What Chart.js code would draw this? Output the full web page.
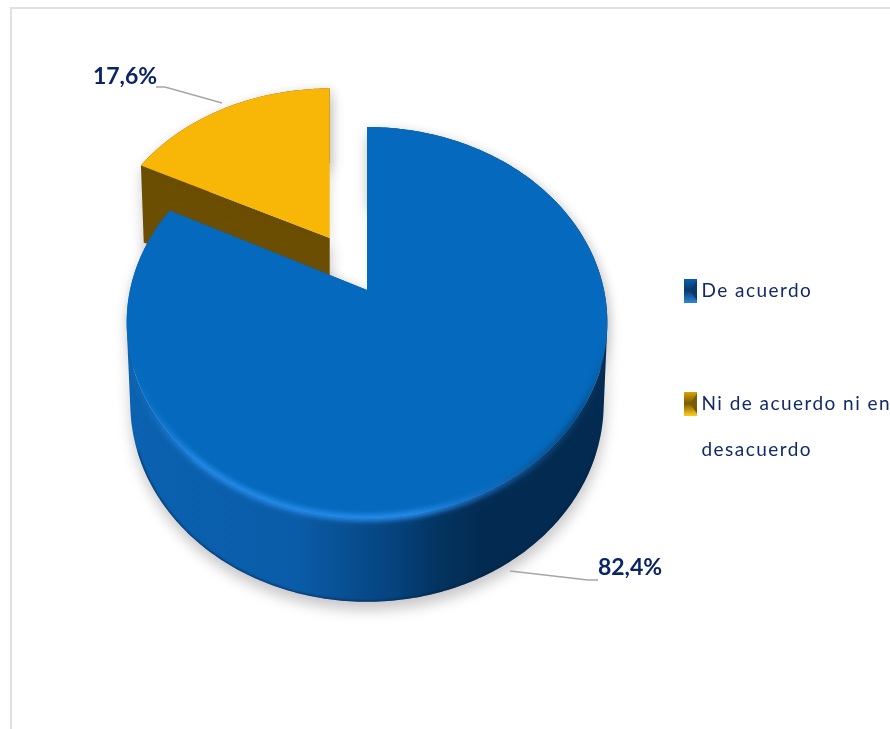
<!DOCTYPE html>
<html>
<head>
<meta charset="utf-8">
<script src="https://cdn.jsdelivr.net/npm/chart.js@4/dist/chart.umd.js"></script>
<style>
    html, body { margin: 0; background: #fff; }
    canvas { display: block; }
</style>
</head>
<body>
<canvas id="acuerdoChart" width="890" height="729"></canvas>
<script>
const categories = ['De acuerdo', ['Ni de acuerdo ni en', 'desacuerdo']];
const percentages = [82.4, 17.6];
const topColors = ['#056abd', '#f8b606'];
const sliceOffsets = [0, 80];

// perspective of the disc plane
const TILT = 0.166;
const FORESHORTEN = 190 / 237;

// (ou, ov) is the slice's shift on the disc, (du, dv) the point relative to its apex
function project(arc, ou, ov, du, dv, lowered) {
    const v = ov + dv;
    const w = 1 + TILT * v;
    const r = arc.outerRadius;
    const shiftX = 0.93 * r * ou / (1 + TILT * ov);
    const x = arc.x + shiftX + (lowered ? 0.985 : 1) * r * du / w;
    let y = arc.y - FORESHORTEN * r * v / w;
    if (lowered) y += 80 - 4 * v;
    return [x, y];
}

function slicePoints(arc, lowered) {
    const mid = (arc.startAngle + arc.endAngle) / 2;
    const off = (arc.options.offset || 0) / arc.outerRadius;
    const ou = Math.cos(mid) * off;
    const ov = -Math.sin(mid) * off;
    const steps = Math.ceil(arc.circumference / 0.015);
    const pts = [project(arc, ou, ov, 0, 0, lowered)];
    for (let i = 0; i <= steps; i++) {
        const a = arc.startAngle + arc.circumference * i / steps;
        pts.push(project(arc, ou, ov, Math.cos(a), -Math.sin(a), lowered));
    }
    return pts;
}

function tracePolygon(ctx, pts) {
    ctx.moveTo(pts[0][0], pts[0][1]);
    for (let i = 1; i < pts.length; i++) ctx.lineTo(pts[i][0], pts[i][1]);
    ctx.closePath();
}

// side wall: one quad per edge, all wound the same way so the fill has no holes
function traceWall(ctx, top, bottom) {
    for (let i = 0; i < top.length; i++) {
        const j = (i + 1) % top.length;
        let quad = [top[i], top[j], bottom[j], bottom[i]];
        let area = 0;
        for (let k = 0; k < 4; k++) {
            const n = quad[(k + 1) % 4];
            area += quad[k][0] * n[1] - n[0] * quad[k][1];
        }
        if (area < 0) quad = quad.reverse();
        tracePolygon(ctx, quad);
    }
}

function traceFrontEdge(ctx, pts, minY) {
    let started = false;
    for (let i = 1; i < pts.length; i++) {
        if (pts[i][1] < minY) continue;
        if (!started) { ctx.moveTo(pts[i][0], pts[i][1]); started = true; }
        else ctx.lineTo(pts[i][0], pts[i][1]);
    }
}

function drawRim(ctx, arc, top, bottom) {
    const grad = ctx.createLinearGradient(128, 0, 608, 0);
    grad.addColorStop(0, 'rgba(30,130,225,0)');
    grad.addColorStop(0.14, 'rgba(36,140,235,0.9)');
    grad.addColorStop(0.6, 'rgba(36,140,235,1)');
    grad.addColorStop(0.78, 'rgba(18,100,180,0.8)');
    grad.addColorStop(0.93, 'rgba(6,60,110,0.7)');
    grad.addColorStop(1, 'rgba(6,60,110,0)');

    ctx.save();
    ctx.beginPath();
    tracePolygon(ctx, top);
    traceWall(ctx, top, bottom);
    ctx.clip();
    ctx.filter = 'blur(2.5px)';
    ctx.strokeStyle = grad;
    ctx.lineWidth = 7;
    ctx.beginPath();
    traceFrontEdge(ctx, top, 340);
    ctx.stroke();

    // soft dark line along the lower edge of the wall
    ctx.filter = 'blur(1px)';
    ctx.strokeStyle = 'rgba(3,32,62,0.6)';
    ctx.lineWidth = 2.5;
    ctx.beginPath();
    traceFrontEdge(ctx, bottom, 450);
    ctx.stroke();
    ctx.restore();
}

// arcs are drawn as tilted discs with a side wall
Chart.ArcElement.prototype.draw = function (ctx) {
    const top = slicePoints(this, false);
    const bottom = slicePoints(this, true);

    ctx.save();
    ctx.shadowColor = 'rgba(70,62,70,0.3)';
    ctx.shadowBlur = 14;
    ctx.shadowOffsetX = 1;
    ctx.shadowOffsetY = 8;
    ctx.fillStyle = this.options.borderColor;
    ctx.beginPath();
    traceWall(ctx, top, bottom);
    ctx.fill();
    ctx.shadowColor = 'rgba(70,62,70,0.12)';
    ctx.shadowOffsetY = 0;
    ctx.shadowOffsetX = 3;
    ctx.shadowBlur = 8;
    ctx.fillStyle = this.options.backgroundColor;
    ctx.beginPath();
    tracePolygon(ctx, top);
    ctx.fill();
    ctx.restore();

    if (this.circumference > Math.PI) drawRim(ctx, this, top, bottom);
};

// the exploded slice sits behind the big one
Chart.PieController.prototype.draw = function () {
    const ctx = this.chart.ctx;
    [...this.getMeta().data].reverse().forEach(arc => arc.draw(ctx));
};

function wallColor(c) {
    if (c.dataIndex === 1) return '#6b4e02';
    const grad = c.chart.ctx.createLinearGradient(130, 0, 607, 0);
    grad.addColorStop(0, '#0b62b0');
    grad.addColorStop(0.35, '#0a5ca8');
    grad.addColorStop(0.55, '#06437f');
    grad.addColorStop(0.65, '#03335f');
    grad.addColorStop(0.74, '#032b52');
    grad.addColorStop(1, '#032a50');
    return grad;
}

function makeSwatch(edge, light, dark) {
    const c = document.createElement('canvas');
    c.width = 13;
    c.height = 24;
    const g = c.getContext('2d');
    const grad = g.createLinearGradient(0, 0, 0, 24);
    grad.addColorStop(0, edge);
    grad.addColorStop(0.5, dark);
    grad.addColorStop(1, light);
    g.fillStyle = grad;
    g.fillRect(0, 0, 13, 24);
    g.fillStyle = dark;
    g.beginPath();
    g.moveTo(13, 2);
    g.lineTo(6, 12);
    g.lineTo(13, 22);
    g.closePath();
    g.fill();
    return c;
}

const swatches = [
    makeSwatch('#0a62ad', '#2a86d6', '#0a3a6a'),
    makeSwatch('#e0a604', '#ffcb1e', '#7a5a04')
];

const framePlugin = {
    id: 'frame',
    beforeDraw(chart) {
        const ctx = chart.ctx;
        ctx.fillStyle = '#fff';
        ctx.fillRect(0, 0, chart.width, chart.height);
        ctx.fillStyle = '#e0e0e0';
        ctx.fillRect(10, 7, chart.width - 10, 2);
        ctx.fillRect(10, 7, 2, chart.height - 7);
        ctx.letterSpacing = '1.45px';
    }
};

// legend sits to the right of the pie, below its centre
const legendPlacement = {
    id: 'legendPlacement',
    afterLayout(chart) {
        const legend = chart.legend;
        legend.left = 595;
        legend.right = 890;
        legend.top = 187;
        legend.bottom = 729;
    }
};

const percentLabels = {
    id: 'percentLabels',
    afterDraw(chart) {
        const ctx = chart.ctx;
        const anchors = [
            { x: 630, y: 568, line: [[510, 571], [588, 580], [598, 580]] },
            { x: 125, y: 77, line: [[156, 87], [165, 87], [222, 103]] }
        ];
        ctx.save();
        ctx.letterSpacing = '0px';
        percentages.forEach((value, i) => {
            const a = anchors[i];
            ctx.strokeStyle = '#a6a6a6';
            ctx.lineWidth = 1.5;
            ctx.beginPath();
            a.line.forEach((p, k) => k ? ctx.lineTo(p[0], p[1]) : ctx.moveTo(p[0], p[1]));
            ctx.stroke();
            ctx.fillStyle = '#0b2468';
            ctx.font = 'bold 23px Lato';
            ctx.textAlign = 'center';
            ctx.textBaseline = 'middle';
            ctx.fillText(value.toFixed(1).replace('.', ',') + '%', a.x, a.y);
        });
        ctx.restore();
    }
};

new Chart(document.getElementById('acuerdoChart'), {
    type: 'pie',
    data: {
        labels: categories,
        datasets: [{
            data: percentages,
            backgroundColor: topColors,
            borderColor: wallColor,
            offset: sliceOffsets
        }]
    },
    options: {
        responsive: false,
        animation: false,
        radius: 237,
        layout: { padding: { right: 156, bottom: 149 } },
        plugins: {
            tooltip: { enabled: false },
            legend: {
                position: 'chartArea',
                align: 'start',
                labels: {
                    usePointStyle: true,
                    pointStyleWidth: 3,
                    padding: 94,
                    color: '#12296b',
                    font: { family: 'Lato', size: 19, lineHeight: 46 / 19 },
                    generateLabels: () => categories.map((text, i) => ({
                        text: text,
                        pointStyle: swatches[i],
                        fontColor: '#12296b',
                        lineWidth: 0,
                        hidden: false,
                        index: i
                    }))
                }
            }
        }
    },
    plugins: [framePlugin, legendPlacement, percentLabels]
});
</script>
</body>
</html>
